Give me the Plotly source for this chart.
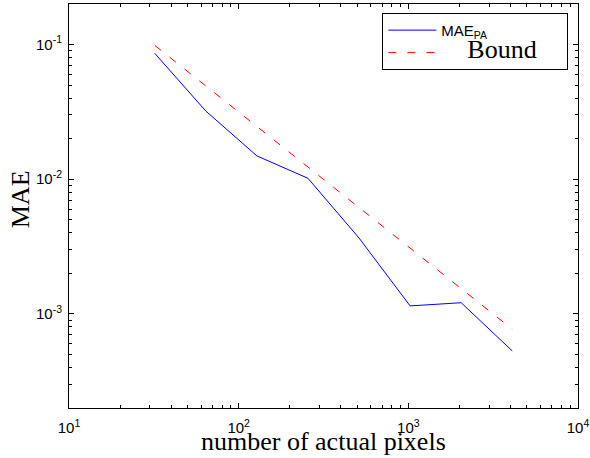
import plotly.graph_objects as go

# Data
pixels = [32, 64, 128, 256, 512, 1024, 2048, 4096]
mae_pa = [0.0861, 0.0321, 0.0149, 0.01016, 0.00366, 0.001146, 0.00121, 0.000531]
bound = [0.0986, 0.0493, 0.02465, 0.0123, 0.00616, 0.00308, 0.00154, 0.00077]

x_tickvals = [10, 100, 1000, 10000]
x_ticktext = ["10<sup>1</sup>", "10<sup>2</sup>", "10<sup>3</sup>", "10<sup>4</sup>"]
x_minor = [m * d for d in [10, 100, 1000] for m in range(2, 10)]
y_tickvals = [0.001, 0.01, 0.1]
y_ticktext = ["10<sup>-3</sup>", "10<sup>-2</sup>", "10<sup>-1</sup>"]
y_minor = [m * d for d in [0.0001, 0.001, 0.01, 0.1] for m in range(2, 10)]

SANS = "Liberation Sans, Arial, sans-serif"
SERIF = "Liberation Serif, Times New Roman, serif"
NB = "\u00a0"

fig = go.Figure()
fig.add_trace(go.Scatter(
    x=pixels, y=mae_pa, mode="lines",
    name="MAE<sub>PA</sub>" + NB * 18,
    line=dict(color="#0000ff", width=1),
))
fig.add_trace(go.Scatter(
    x=pixels, y=bound, mode="lines",
    name="<span style='font-family:Liberation Serif, Times New Roman, serif;font-size:26px'>"
         + NB * 4 + "Bound</span>",
    line=dict(color="#ff0000", width=1, dash="8px,11px"),
))

axis_common = dict(
    type="log",
    automargin=False,
    showgrid=False,
    zeroline=False,
    showline=True,
    linecolor="black",
    linewidth=1,
    mirror="ticks",
    ticks="inside",
    ticklen=5,
    tickwidth=1,
    tickcolor="black",
    tickfont=dict(family=SANS, size=15, color="black"),
)

fig.update_layout(
    width=590, height=458,
    margin=dict(l=69, r=12, t=4, b=50),
    paper_bgcolor="white",
    plot_bgcolor="white",
    showlegend=True,
    legend=dict(
        x=0.981, y=0.978, xanchor="right", yanchor="top",
        bgcolor="white", bordercolor="black", borderwidth=1,
        font=dict(family=SANS, size=15, color="black"),
        itemwidth=48,
        tracegroupgap=0,
    ),
    xaxis=dict(
        **axis_common,
        range=[1, 4],
        tickvals=x_tickvals, ticktext=x_ticktext,
        ticklabelstandoff=6,
        minor=dict(tickmode="array", tickvals=x_minor, ticks="inside",
                   ticklen=3, tickwidth=1, tickcolor="black", showgrid=False),
    ),
    yaxis=dict(
        **axis_common,
        range=[-3.69897, -0.69897],
        tickvals=y_tickvals, ticktext=y_ticktext,
        ticklabelstandoff=3,
        minor=dict(tickmode="array", tickvals=y_minor, ticks="inside",
                   ticklen=3, tickwidth=1, tickcolor="black", showgrid=False),
    ),
    annotations=[
        dict(text="number of actual pixels", xref="paper", yref="paper",
             x=0.5, y=-0.082, xanchor="center", yanchor="middle",
             showarrow=False, font=dict(family=SERIF, size=26, color="black")),
        dict(text="MAE", xref="paper", yref="paper", textangle=-90,
             x=-0.096, y=0.517, xanchor="center", yanchor="middle",
             showarrow=False, font=dict(family=SERIF, size=26, color="black")),
    ],
)

fig.write_html("out.html", config={"displayModeBar": False},
               post_script="document.body.style.margin='0';")
